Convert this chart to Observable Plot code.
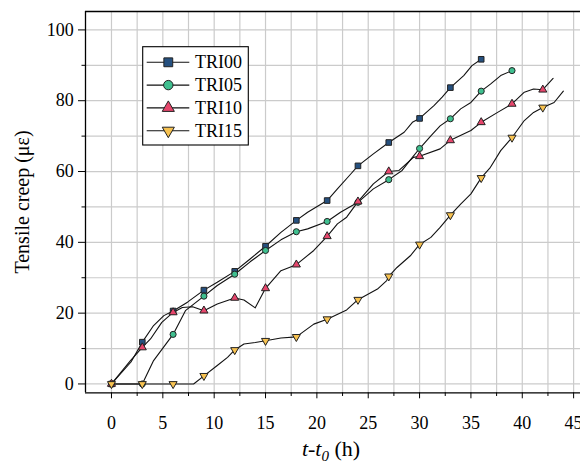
<!DOCTYPE html>
<html>
<head>
<meta charset="utf-8">
<script src="https://cdn.jsdelivr.net/npm/d3@7"></script>
<script src="https://cdn.jsdelivr.net/npm/@observablehq/plot@0.6"></script>
<style>
  html, body { margin: 0; padding: 0; background: #fff; }
  #chart { width: 580px; height: 463px; }
  #chart svg, #chart svg text, #chart svg tspan { font-family: "Liberation Serif", "Times New Roman", serif !important; }
</style>
</head>
<body>
<div id="chart"></div>
<script>
// ---- Data ----
const seriesNames = ["TRI00", "TRI05", "TRI10", "TRI15"];
const seriesFill = ["#25507f", "#3fbf8f", "#e6466c", "#f7c250"];
const seriesSymbol = ["square", "circle", "triangle", "triangle"];
const seriesRotate = [0, 0, 0, 180];

const markerTimes = [0, 3, 6, 9, 12, 15, 18, 21, 24, 27, 30, 33, 36, 39, 42];
const tri00Marks = [0, 11.8, 20.6, 26.5, 31.8, 38.9, 46.2, 51.8, 61.6, 68.2, 75.0, 83.7, 91.7];
const tri05Marks = [0, 0, 14.0, 24.8, 31.0, 37.7, 43.0, 45.9, 51.3, 57.7, 66.5, 74.9, 82.7, 88.5];
const tri10Marks = [0, 10.3, 20.2, 20.7, 24.3, 27.0, 33.7, 41.7, 51.5, 60.0, 64.3, 68.8, 73.9, 79.1, 83.1];
const tri15Marks = [0, 0, 0, 2.3, 9.6, 12.2, 13.3, 18.3, 23.8, 30.4, 39.4, 47.7, 58.2, 69.6, 78.1];

const tri00LineT = [0, 1.9, 3, 4.1, 5.1, 6, 7.4, 9, 10.3, 12, 13.5, 15, 16.5, 18, 19.1, 21, 22, 23.3, 24, 25.5, 27, 28.5, 29.3, 30, 31.4, 32.2, 33, 34.3, 35.1, 36];
const tri00LineV = [0, 6.2, 11.8, 16.5, 19.3, 20.6, 23.1, 26.5, 28.7, 31.8, 35.3, 38.9, 42.8, 46.2, 48.5, 51.8, 55.1, 59.3, 61.6, 65.0, 68.2, 71.1, 73.9, 75.0, 78.6, 81.0, 83.7, 87.1, 89.9, 91.7];
const tri05LineT = [0, 3, 4.1, 6, 7.2, 9, 10.3, 12, 13.5, 15, 16.5, 18, 19.1, 21, 22.3, 24, 25.5, 27, 28.3, 29.3, 30, 31.1, 32, 33, 34, 35, 36, 36.9, 37.9, 39];
const tri05LineV = [0, 0, 6.6, 14.0, 20.7, 24.8, 27.8, 31.0, 34.5, 37.7, 40.7, 43.0, 43.8, 45.9, 48.5, 51.3, 55.1, 57.7, 60.3, 64.0, 66.5, 70.1, 72.9, 74.9, 77.7, 79.5, 82.7, 84.7, 87.1, 88.5];
const tri10LineT = [0, 1.85, 3, 3.8, 4.9, 6, 6.9, 7.9, 9, 10.3, 12, 12.9, 14, 15, 16.5, 18, 19.7, 21, 22, 22.9, 24, 25.5, 27, 28, 29.4, 30, 32, 33, 35, 36, 37.6, 39, 40.2, 41.1, 42, 43];
const tri10LineV = [0, 6.6, 10.3, 12.7, 17.4, 20.2, 21.6, 21.8, 20.7, 22.6, 24.3, 23.7, 21.5, 27.0, 32.0, 33.7, 37.7, 41.7, 45.2, 47.1, 51.5, 56.5, 60.0, 60.3, 64.0, 64.3, 66.4, 68.8, 71.6, 73.9, 76.7, 79.1, 82.4, 83.3, 83.1, 86.3];
const tri15LineT = [0, 3, 6, 8, 9, 10.3, 11.3, 12, 12.9, 14, 15, 16.5, 18, 19.7, 21, 22.9, 24, 25.9, 26.8, 27, 27.8, 29.1, 30, 31.1, 32, 33, 34, 35, 36, 36.9, 37.9, 39, 40.2, 41.1, 42, 43.1, 44];
const tri15LineV = [0, 0, 0, 0, 2.3, 5.2, 7.5, 9.6, 11.3, 11.7, 12.2, 13.0, 13.3, 16.9, 18.3, 20.9, 23.8, 26.8, 29.2, 30.4, 32.9, 36.2, 39.4, 41.4, 44.2, 47.7, 50.8, 53.7, 58.2, 61.2, 65.9, 69.6, 74.4, 76.7, 78.1, 79.5, 82.7];

const xMajorTicks = [0, 5, 10, 15, 20, 25, 30, 35, 40, 45];
const xMinorTicks = [2.5, 7.5, 12.5, 17.5, 22.5, 27.5, 32.5, 37.5, 42.5];
const yMajorTicks = [0, 20, 40, 60, 80, 100];
const yMinorTicks = [10, 30, 50, 70, 90];
const xDomain = [-2.53, 45.67];
const yDomain = [-2.5, 105.2];

// ---- Build tables ----
const markSets = [tri00Marks, tri05Marks, tri10Marks, tri15Marks];
const lineSets = [[tri00LineT, tri00LineV], [tri05LineT, tri05LineV], [tri10LineT, tri10LineV], [tri15LineT, tri15LineV]];
const points = [];
markSets.forEach((vals, i) => vals.forEach((v, j) => points.push({s: seriesNames[i], t: markerTimes[j], v, fill: seriesFill[i], sym: seriesSymbol[i], rot: seriesRotate[i]})));
const lines = [];
lineSets.forEach(([T, V], i) => T.forEach((t, j) => lines.push({s: seriesNames[i], t, v: V[j]})));
const gridXs = [...xMajorTicks, ...xMinorTicks];
const gridYs = [...yMajorTicks, ...yMinorTicks];
const FONT = '"Liberation Serif", "Times New Roman", serif';
const symR = s => s === "square" ? 5.0 : s === "circle" ? 4.7 : 4.5;

const chart = Plot.plot({
  width: 580, height: 463,
  marginLeft: 85, marginRight: 0, marginTop: 11, marginBottom: 70.7,
  style: {fontFamily: FONT, fontSize: "18px", background: "#fff", color: "#000", overflow: "visible"},
  x: {domain: xDomain},
  y: {domain: yDomain},
  marks: [
    Plot.gridX(gridXs, {stroke: "#cbcbcb", strokeOpacity: 1, strokeWidth: 1.2}),
    Plot.gridY(gridYs, {stroke: "#cbcbcb", strokeOpacity: 1, strokeWidth: 1.2}),
    Plot.line(lines, {x: "t", y: "v", z: "s", stroke: "#111", strokeWidth: 1.1}),
    Plot.dot(points, {x: "t", y: "v", symbol: d => d.sym, rotate: "rot", fill: "fill", stroke: "#222", strokeWidth: 1,
      r: d => symR(d.sym)}),
    Plot.axisX(xMajorTicks, {tickSize: 6, tickPadding: 17.6, fontSize: 18, label: null, stroke: "#000"}),
    Plot.axisX(xMinorTicks, {tickSize: 3.7, tickFormat: () => "", label: null, stroke: "#000"}),
    Plot.axisY(yMajorTicks, {tickSize: 7, tickPadding: 4.7, fontSize: 18, label: null, stroke: "#000"}),
    Plot.axisY(yMinorTicks, {tickSize: 3.5, tickFormat: () => "", label: null, stroke: "#000"}),
    Plot.ruleX([xDomain[0]], {stroke: "#000", strokeWidth: 1.3}),
    Plot.ruleY([yDomain[0], yDomain[1]], {stroke: "#000", strokeWidth: 1.3})
  ]
});
document.getElementById("chart").appendChild(chart);

// ---- Axis titles & legend (layout only) ----
const svg = d3.select(chart).attr("font-family", FONT);
svg.append("text")
  .attr("transform", "translate(28.5,202) rotate(-90)")
  .attr("text-anchor", "middle")
  .attr("font-size", 20)
  .attr("fill", "#000")
  .text("Tensile creep (με)");

const xt = svg.append("text")
  .attr("x", 331).attr("y", 456)
  .attr("text-anchor", "middle")
  .attr("font-size", 22)
  .attr("fill", "#000");
xt.append("tspan").attr("font-style", "italic").text("t");
xt.append("tspan").text("-");
xt.append("tspan").attr("font-style", "italic").text("t");
xt.append("tspan").attr("font-style", "italic").attr("font-size", 15).attr("dy", 5).text("0");
xt.append("tspan").attr("dy", -5).text(" (h)");

const lg = svg.append("g");
lg.append("rect").attr("x", 142.7).attr("y", 46.7).attr("width", 105.6).attr("height", 98.3)
  .attr("fill", "#fff").attr("stroke", "#000").attr("stroke-width", 1.1);
const symMap = {square: d3.symbolSquare, circle: d3.symbolCircle, triangle: d3.symbolTriangle};
seriesNames.forEach((name, i) => {
  const y = 62.3 + i * 22.8;
  lg.append("line").attr("x1", 146.7).attr("x2", 189.3).attr("y1", y).attr("y2", y)
    .attr("stroke", "#111").attr("stroke-width", 1.1);
  const r = symR(seriesSymbol[i]);
  lg.append("path")
    .attr("d", d3.symbol(symMap[seriesSymbol[i]], Math.PI * r * r)())
    .attr("transform", `translate(168.3,${y}) rotate(${seriesRotate[i]})`)
    .attr("fill", seriesFill[i]).attr("stroke", "#222").attr("stroke-width", 1);
  lg.append("text").attr("x", 195).attr("y", y).attr("dy", "0.34em")
    .attr("text-anchor", "start")
    .attr("font-size", 18).attr("fill", "#000").text(name);
});
svg.selectAll("text").attr("font-family", FONT).style("font-family", FONT);
</script>
</body>
</html>
